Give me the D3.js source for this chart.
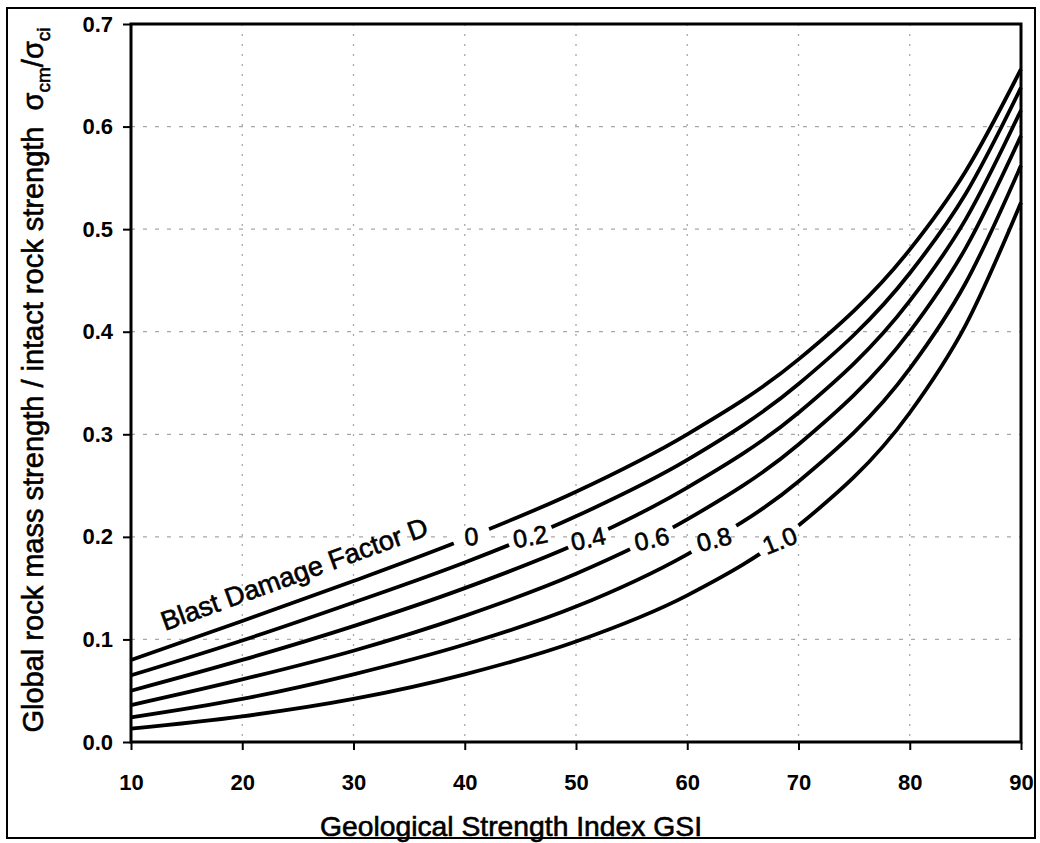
<!DOCTYPE html>
<meta charset="utf-8">
<style>
body { margin: 0; background: #fff; }
text { font-family: "Liberation Sans", Arial, sans-serif; fill: #000; }
.heavy { stroke: #000; stroke-width: 0.6px; }
</style>
<body>
<script src="https://d3js.org/d3.v7.min.js"></script>
<script>

// GSI sample points and sigma_cm/sigma_ci, one list per D
var gsi  = [10, 20, 30, 40, 50, 60, 70, 80, 85, 90];
var d00 = [0.080, 0.118, 0.157, 0.198, 0.244, 0.300, 0.373, 0.480, 0.556, 0.656];
var d02 = [0.065, 0.099, 0.136, 0.175, 0.220, 0.275, 0.349, 0.457, 0.534, 0.638];
var d04 = [0.050, 0.080, 0.113, 0.150, 0.193, 0.248, 0.321, 0.430, 0.509, 0.616];
var d06 = [0.036, 0.061, 0.089, 0.123, 0.164, 0.217, 0.290, 0.400, 0.481, 0.591];
var d08 = [0.024, 0.042, 0.066, 0.095, 0.132, 0.183, 0.254, 0.364, 0.447, 0.562];
var d10 = [0.013, 0.025, 0.042, 0.066, 0.098, 0.143, 0.211, 0.321, 0.406, 0.526];

var dNames  = ["0", "0.2", "0.4", "0.6", "0.8", "1.0"];
var dSeries = [d00, d02, d04, d06, d08, d10];
// where along each curve (GSI) its D label sits
var labelGsi = [40.6, 45.9, 51.1, 56.8, 62.4, 68.3];

var xTicks = [10, 20, 30, 40, 50, 60, 70, 80, 90];
var yTicks = [0, 0.1, 0.2, 0.3, 0.4, 0.5, 0.6, 0.7];

// label look: gap cut in curve (px) and text rotation (deg)
var labelGap   = [38, 46, 44, 48, 52, 48];
var labelAngle = [-5, -10, -12, -12, -15, -22];

var W = 1040, H = 843;
var margin = {top: 24, right: 19, bottom: 101, left: 131},
    width = W - margin.left - margin.right,
    height = H - margin.top - margin.bottom;

var svg = d3.select("body").append("svg")
    .attr("width", W)
    .attr("height", H);

// outer figure border
svg.append("rect")
    .attr("x", 7).attr("y", 8)
    .attr("width", 1028).attr("height", 830)
    .attr("fill", "none")
    .attr("stroke", "#000")
    .attr("stroke-width", 2);

var g = svg.append("g")
    .attr("transform", "translate(" + margin.left + "," + margin.top + ")");

var x = d3.scaleLinear().domain([10, 90]).range([0, width]);
var y = d3.scaleLinear().domain([0, 0.7]).range([height, 0]);

// dotted grid
g.selectAll(".vgrid")
  .data(xTicks.slice(1, -1))
  .enter().append("line")
    .attr("x1", function(d){ return x(d) })
    .attr("x2", function(d){ return x(d) })
    .attr("y1", 0).attr("y2", height)
    .attr("stroke", "#a8a8a8")
    .attr("stroke-width", 1.3)
    .attr("stroke-dasharray", "2,8");
g.selectAll(".hgrid")
  .data(yTicks.slice(1, -1))
  .enter().append("line")
    .attr("y1", function(d){ return y(d) })
    .attr("y2", function(d){ return y(d) })
    .attr("x1", 0).attr("x2", width)
    .attr("stroke", "#a8a8a8")
    .attr("stroke-width", 1.3)
    .attr("stroke-dasharray", "4,8");

var line = d3.line()
    .x(function(d){ return x(d[0]) })
    .y(function(d){ return y(d[1]) })
    .curve(d3.curveMonotoneX);

var curves = g.selectAll(".curve")
  .data(dSeries)
  .enter().append("path")
    .attr("class", "curve")
    .attr("d", function(vals){ return line(gsi.map(function(gv, i){ return [gv, vals[i]] })) })
    .attr("fill", "none")
    .attr("stroke", "#000")
    .attr("stroke-width", 3.8);

// find the point on a path at a given screen x
function pointAtX(path, px) {
  var len = path.getTotalLength(), lo = 0, hi = len;
  for (var k = 0; k < 40; k++) {
    var mid = (lo + hi) / 2;
    if (path.getPointAtLength(mid).x < px) lo = mid; else hi = mid;
  }
  var p = path.getPointAtLength(lo);
  var p2 = path.getPointAtLength(Math.min(len, lo + 4));
  var p1 = path.getPointAtLength(Math.max(0, lo - 4));
  return {x: p.x, y: p.y, a: Math.atan2(p2.y - p1.y, p2.x - p1.x) * 180 / Math.PI};
}

curves.each(function(vals, i) {
  var p = pointAtX(this, x(labelGsi[i]));
  var lg = g.append("g")
      .attr("transform", "translate(" + p.x + "," + p.y + ")");
  lg.append("rect")
      .attr("x", -labelGap[i] / 2).attr("y", -6)
      .attr("width", labelGap[i]).attr("height", 12)
      .attr("fill", "#fff")
      .attr("transform", "rotate(" + p.a + ")");
  lg.append("text")
      .attr("class", "heavy")
      .attr("transform", "rotate(" + labelAngle[i] + ")")
      .attr("text-anchor", "middle")
      .attr("dy", "0.36em")
      .style("font-size", "25px")
      .text(dNames[i]);
});

// "Blast Damage Factor D" running along the D = 0 curve
g.append("text")
    .attr("class", "heavy")
    .attr("transform", "translate(" + (165 - margin.left) + "," + (631 - margin.top) + ") rotate(-20)")
    .attr("textLength", 282)
    .attr("lengthAdjust", "spacingAndGlyphs")
    .style("font-size", "27px")
    .text("Blast Damage Factor D");

// plot frame
g.append("rect")
    .attr("width", width).attr("height", height)
    .attr("fill", "none")
    .attr("stroke", "#000")
    .attr("stroke-width", 3);

var yAxis = g.append("g")
    .call(d3.axisLeft(y).tickValues(yTicks).tickSize(8).tickPadding(10).tickFormat(d3.format(".1f")));
var xAxis = g.append("g")
    .attr("transform", "translate(0," + height + ")")
    .call(d3.axisBottom(x).tickValues(xTicks).tickSize(8).tickPadding(24));

[xAxis, yAxis].forEach(function(ax) {
  ax.select(".domain").remove();
  ax.selectAll(".tick line").attr("stroke", "#000").attr("stroke-width", 2);
  ax.selectAll(".tick text")
    .style("font-family", "'Liberation Sans', Arial, sans-serif")
    .style("font-size", "22px")
    .style("font-weight", "bold")
    .attr("fill", "#000");
});

// axis titles
svg.append("text")
    .attr("class", "heavy")
    .attr("x", 511).attr("y", 836)
    .attr("text-anchor", "middle")
    .attr("textLength", 382)
    .attr("lengthAdjust", "spacingAndGlyphs")
    .style("font-size", "28px")
    .text("Geological Strength Index GSI");

var yt = svg.append("text")
    .attr("class", "heavy")
    .attr("transform", "translate(43,380) rotate(-90)")
    .attr("text-anchor", "middle")
    .style("font-size", "29px");
yt.append("tspan").text("Global rock mass strength / intact rock strength\u00A0\u00A0\u03C3");
yt.append("tspan").attr("dy", 7).style("font-size", "19px").text("cm");
yt.append("tspan").attr("dy", -7).text("/\u03C3");
yt.append("tspan").attr("dy", 7).style("font-size", "19px").text("ci");

</script>
</body>
